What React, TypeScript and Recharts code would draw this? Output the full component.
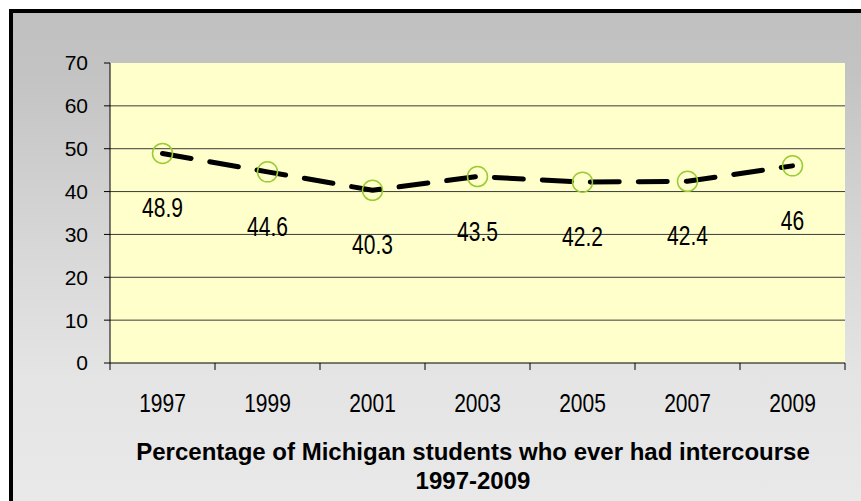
import { CartesianGrid, LabelList, Line, LineChart, XAxis, YAxis } from 'recharts'

const years = ['1997', '1999', '2001', '2003', '2005', '2007', '2009']
const everHadIntercourse = [48.9, 44.6, 40.3, 43.5, 42.2, 42.4, 46]
const yTicks = [0, 10, 20, 30, 40, 50, 60, 70]
const gridValues = [10, 20, 30, 40, 50, 60]
const titleLines = ['Percentage of Michigan students who ever had intercourse', '1997-2009']

const data = years.map((year, i) => ({ year, pct: everHadIntercourse[i] }))

const FONT = '"Liberation Sans", Arial, sans-serif'

// category ticks sit in the middle of each band; the marks go on the band edges
function YearTick(props: any) {
  const { x, y, payload, index, visibleTicksCount } = props
  const half = payload?.offset ?? 0
  const last = index === visibleTicksCount - 1
  return (
    <g>
      <line x1={x - half} x2={x - half} y1={y} y2={y + 7} stroke="#000" />
      {last && <line x1={x + half} x2={x + half} y1={y} y2={y + 7} stroke="#000" />}
      <text
        transform={`translate(${x}, ${y + 49}) scale(1, 1.2)`}
        textAnchor="middle"
        fontSize={21}
        fontFamily={FONT}
        fill="#000"
      >
        {payload.value}
      </text>
    </g>
  )
}

function ValueLabel(props: any) {
  const { x, y, value } = props
  return (
    <text
      transform={`translate(${x}, ${y + 64}) scale(1, 1.3)`}
      textAnchor="middle"
      fontSize={21}
      fontFamily={FONT}
      fill="#000"
    >
      {value}
    </text>
  )
}

export default function App() {
  return (
    <div
      style={{
        position: 'fixed',
        left: 0,
        top: 0,
        width: 861,
        height: 501,
        overflow: 'hidden',
        background: '#fff',
      }}
    >
      <div
        style={{
          position: 'absolute',
          left: 9,
          top: 9,
          width: 900,
          height: 560,
          border: '4px solid #000',
          background:
            'linear-gradient(to bottom, #c0c0c0 0px, #c3c3c3 60px, #d8d8d8 240px, #e4e4e4 360px, #e9e9e9 490px)',
        }}
      />
      <div style={{ position: 'absolute', left: 0, top: 0 }}>
        <LineChart width={861} height={501} data={data} margin={{ top: 63, right: 16, left: 0, bottom: 108 }}>
          <CartesianGrid
            vertical={false}
            horizontalValues={gridValues}
            fill="#ffffcc"
            stroke="#3a3a3a"
            strokeOpacity={1}
          />
          <XAxis
            dataKey="year"
            scale="band"
            interval={0}
            height={30}
            tickSize={0}
            tickMargin={0}
            tickLine={false}
            axisLine={{ stroke: '#000' }}
            tick={<YearTick />}
          />
          <YAxis
            width={110}
            domain={[0, 70]}
            ticks={yTicks}
            interval={0}
            tickSize={6}
            tickMargin={16}
            axisLine={{ stroke: '#000' }}
            tickLine={{ stroke: '#000' }}
            tick={{ fill: '#000', fontSize: 21, fontFamily: FONT }}
          />
          <Line
            type="linear"
            dataKey="pct"
            stroke="#000"
            strokeWidth={5}
            strokeDasharray="29 19"
            strokeLinecap="round"
            dot={{ r: 10, stroke: '#99cc33', strokeWidth: 1.5, fill: 'none', strokeDasharray: '' }}
            activeDot={false}
            isAnimationActive={false}
          >
            <LabelList dataKey="pct" content={<ValueLabel />} />
          </Line>
        </LineChart>
      </div>
      <div
        style={{
          position: 'absolute',
          left: 110,
          top: 437,
          width: 726,
          textAlign: 'center',
          fontFamily: FONT,
          fontWeight: 'bold',
          fontSize: 24,
          lineHeight: '29px',
          color: '#000',
        }}
      >
        {titleLines.map((t) => (
          <div key={t}>{t}</div>
        ))}
      </div>
    </div>
  )
}
